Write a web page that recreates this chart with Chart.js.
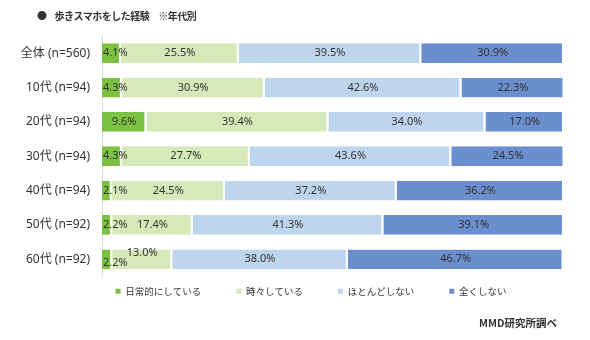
<!DOCTYPE html>
<html><head><meta charset="utf-8">
<script src="https://cdn.jsdelivr.net/npm/chart.js@4.4.1/dist/chart.umd.min.js"></script>
<style>
html,body{margin:0;padding:0;background:#fff;}
#wrap{position:relative;width:590px;height:340px;font-family:"Noto Sans CJK JP","Noto Sans",sans-serif;color:#333;}
#title{position:absolute;left:37px;top:8px;font-size:10px;font-weight:bold;white-space:nowrap;letter-spacing:-0.5px;}
#title .b{margin-right:8px;}
#title .n{margin-left:9px;}
#src{position:absolute;right:33px;top:315px;font-size:10.5px;font-weight:bold;white-space:nowrap;}
canvas{position:absolute;left:0;top:0;}
</style></head>
<body><div id="wrap">
<canvas id="c" width="590" height="340"></canvas>
<div id="title"><span class="b">●</span>歩きスマホをした経験<span class="n">※年代別</span></div>
<div id="src">MMD研究所調べ</div>
</div>
<script>
const categories = ["全体 (n=560)","10代 (n=94)","20代 (n=94)","30代 (n=94)","40代 (n=94)","50代 (n=92)","60代 (n=92)"];
const seriesNames = ["日常的にしている","時々している","ほとんどしない","全くしない"];
const daily   = [4.1, 4.3, 9.6, 4.3, 2.1, 2.2, 2.2];
const sometimes = [25.5, 30.9, 39.4, 27.7, 24.5, 17.4, 13.0];
const rarely  = [39.5, 42.6, 34.0, 43.6, 37.2, 41.3, 38.0];
const never   = [30.9, 22.3, 17.0, 24.5, 36.2, 39.1, 46.7];
const colors = ["#7bc240","#d5eab8","#bdd6ee","#6b8ecf"];

const labelPlugin = {
  id: 'segLabels',
  afterDatasetsDraw(chart) {
    const ctx = chart.ctx;
    ctx.save();
    ctx.font = '11px "Noto Sans", sans-serif';
    ctx.fillStyle = '#333';
    ctx.textBaseline = 'middle';
    const n = chart.data.labels.length;
    for (let i = 0; i < n; i++) {
      const items = [];
      chart.data.datasets.forEach((ds, d) => {
        const el = chart.getDatasetMeta(d).data[i];
        const txt = ds.data[i].toFixed(1) + '%';
        const w = ctx.measureText(txt).width;
        const left = Math.min(el.base, el.x), right = Math.max(el.base, el.x);
        let x0;
        if (w + 2 > right - left) x0 = left + 1;
        else x0 = (left + right) / 2 - w / 2;
        items.push({txt, x0, w, y: el.y, dy: 0});
      });
      for (let k = 1; k < items.length; k++) {
        const p = items[k-1], c = items[k];
        if (p.x0 + p.w > c.x0 - 1) { p.dy = 4; c.dy = -6; }
      }
      items.forEach(it => { ctx.textAlign = 'left'; ctx.fillText(it.txt, it.x0, it.y + it.dy); });
    }
    ctx.restore();
  }
};

// shifts the legend block to sit like the original (slightly right of centre, close under the bars)
const legendShift = {
  id: 'legendShift',
  afterLayout(chart) {
    const lg = chart.legend;
    if (!lg) return;
    const dx = 24, dy = -25;
    lg.left += dx; lg.right += dx; lg.top += dy; lg.bottom += dy;
    if (lg.legendHitBoxes) lg.legendHitBoxes.forEach(h => { h.left += dx; h.top += dy; });
  }
};

const dataArrays = [daily, sometimes, rarely, never];
new Chart(document.getElementById('c'), {
  type: 'bar',
  data: {
    labels: categories,
    datasets: dataArrays.map((arr, i) => ({
      label: seriesNames[i],
      data: arr,
      backgroundColor: colors[i],
      borderColor: '#ffffff',
      borderWidth: {left: 0, right: 2, top: 0, bottom: 0},
      borderSkipped: false,
      barPercentage: 0.9,
      categoryPercentage: 0.64
    }))
  },
  options: {
    indexAxis: 'y',
    responsive: false,
    animation: false,
    devicePixelRatio: 1,
    layout: {padding: {left: 10, right: 26, top: 36, bottom: 9}},
    scales: {
      x: {stacked: true, min: 0, max: 100, display: false},
      y: {
        stacked: true,
        grid: {display: false, drawTicks: false},
        border: {display: true, color: '#d9d9d9', width: 1},
        ticks: {padding: 12, color: '#333', font: {family: '"Noto Sans", "Noto Sans CJK JP", sans-serif', size: 12}},
        afterFit(scale) { scale.width = 92; }
      }
    },
    plugins: {
      legend: {
        position: 'bottom',
        labels: {
          boxWidth: 5, boxHeight: 5, padding: 35,
          color: '#333',
          font: {family: '"Noto Sans CJK JP", sans-serif', size: 9.5},
          generateLabels(chart) {
            return Chart.defaults.plugins.legend.labels.generateLabels(chart).map(l => Object.assign(l, {lineWidth: 0, strokeStyle: 'rgba(0,0,0,0)'}));
          }
        }
      },
      title: {display: false},
      tooltip: {enabled: false}
    }
  },
  plugins: [labelPlugin, legendShift]
});
</script>
</body></html>
